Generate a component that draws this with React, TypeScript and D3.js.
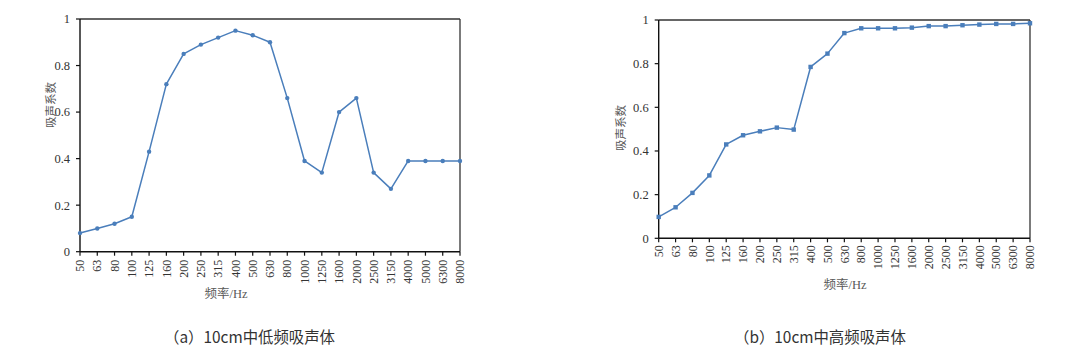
import React from "react";
import * as d3 from "d3";

const freqs = ["50","63","80","100","125","160","200","250","315","400","500","630","800","1000","1250","1600","2000","2500","3150","4000","5000","6300","8000"];
const lowMidValues = [0.08,0.10,0.12,0.15,0.43,0.72,0.85,0.89,0.92,0.95,0.93,0.90,0.66,0.39,0.34,0.60,0.66,0.34,0.27,0.39,0.39,0.39,0.39];
const midHighValues = [0.098,0.142,0.208,0.288,0.43,0.472,0.49,0.507,0.498,0.785,0.846,0.94,0.962,0.962,0.962,0.965,0.972,0.972,0.976,0.979,0.982,0.982,0.985];
const yTicks = [0, 0.2, 0.4, 0.6, 0.8, 1];
const yTitle = "吸声系数";
const xTitle = "频率/Hz";
const captions = ["（a）10cm中低频吸声体", "（b）10cm中高频吸声体"];

const LINE = "#4A7EBB";
const SERIF = "'Liberation Serif', 'Times New Roman', 'Noto Sans CJK SC', serif";
const CJK = "'Noto Sans CJK SC', 'Noto Sans', sans-serif";

type ChartProps = {
  values: number[];
  left: number; right: number; top: number; bottom: number;
  yTitleX: number; yTitleY: number;
  xTitleX: number; xTitleY: number;
  marker: "circle" | "square";
  xLabelGap: number;
};

function Chart(p: ChartProps) {
  const x = d3.scalePoint<string>().domain(freqs).range([p.left, p.right]);
  const y = d3.scaleLinear().domain([0, 1]).range([p.bottom, p.top]);
  const line = d3.line<number>().x((_, i) => x(freqs[i]) as number).y((d) => y(d));
  return (
    <g>
      <line x1={p.left} x2={p.right} y1={p.top} y2={p.top} stroke="#333" strokeWidth={1.3} />
      <line x1={p.right} x2={p.right} y1={p.top} y2={p.bottom} stroke="#333" strokeWidth={1.3} />
      <line x1={p.left} x2={p.left} y1={p.top} y2={p.bottom} stroke="#111" strokeWidth={1.4} />
      <line x1={p.left} x2={p.right} y1={p.bottom} y2={p.bottom} stroke="#111" strokeWidth={1.4} />
      {yTicks.map((t) => (
        <g key={t}>
          <line x1={p.left - 4} x2={p.left} y1={y(t)} y2={y(t)} stroke="#111" strokeWidth={1.2} />
          <text x={p.left - 10} y={y(t)} dy="0.35em" textAnchor="end" fontFamily={SERIF} fontSize={12.5} fill="#333">{String(t)}</text>
        </g>
      ))}
      {freqs.map((f) => (
        <g key={f}>
          <line x1={x(f)} x2={x(f)} y1={p.bottom} y2={p.bottom + 4} stroke="#111" strokeWidth={1.2} />
          <text transform={`translate(${x(f)},${p.bottom + p.xLabelGap}) rotate(-90)`} dy="0.35em" textAnchor="end" fontFamily={SERIF} fontSize={12} fill="#333">{f}</text>
        </g>
      ))}
      <text transform={`translate(${p.yTitleX},${p.yTitleY}) rotate(-90)`} textAnchor="middle" dy="0.35em" fontFamily={CJK} fontSize={11.5} fill="#595959">{yTitle}</text>
      <text x={p.xTitleX} y={p.xTitleY} textAnchor="middle" fontFamily={SERIF} fontSize={12.5} fill="#595959">{xTitle}</text>
      <path d={line(p.values) || ""} fill="none" stroke={LINE} strokeWidth={1.5} strokeLinejoin="round" />
      {p.values.map((v, i) =>
        p.marker === "circle" ? (
          <circle key={i} cx={x(freqs[i])} cy={y(v)} r={2.2} fill={LINE} />
        ) : (
          <rect key={i} x={(x(freqs[i]) as number) - 2.2} y={y(v) - 2.2} width={4.4} height={4.4} fill={LINE} />
        )
      )}
    </g>
  );
}

export default function App() {
  return (
    <svg width={1080} height={358} style={{ position: "absolute", left: 0, top: 0, background: "#fff" }}>
      <rect width={1080} height={358} fill="#fff" />
      <Chart values={lowMidValues} left={80} right={460} top={19} bottom={251.7}
        yTitleX={51} yTitleY={105} xTitleX={226} xTitleY={298} marker="circle" xLabelGap={8} />
      <Chart values={midHighValues} left={658.7} right={1030} top={20} bottom={238.3}
        yTitleX={621} yTitleY={128} xTitleX={845} xTitleY={289} marker="square" xLabelGap={7} />
      <text x={164} y={343} fontFamily={CJK} fontSize={15.4} fill="#333">{captions[0]}</text>
      <text x={734} y={343} fontFamily={CJK} fontSize={15.4} fill="#333">{captions[1]}</text>
    </svg>
  );
}
